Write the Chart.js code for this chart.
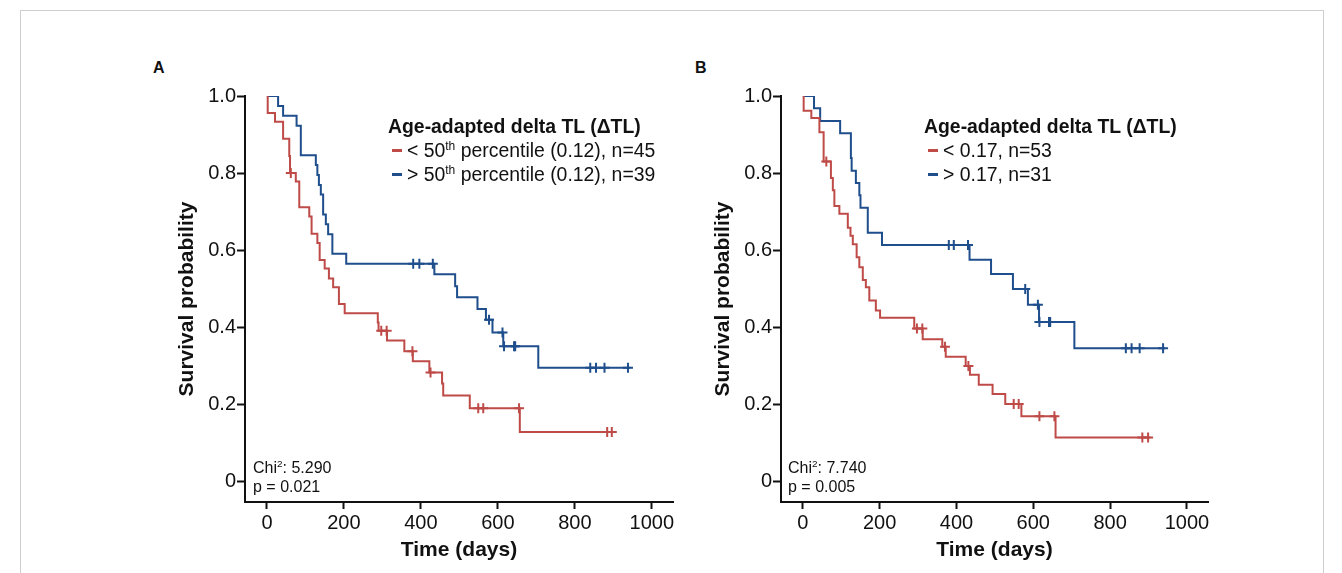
<!DOCTYPE html>
<html>
<head>
<meta charset="utf-8">
<script src="https://cdn.jsdelivr.net/npm/chart.js@4/dist/chart.umd.min.js"></script>
<style>
  body { margin: 0; background: #fff; overflow: hidden; font-family: 'Liberation Sans', Arial, sans-serif; color: #111; }
  .frame { position: absolute; left: 20px; top: 10px; width: 1302px; height: 570px; border: 1px solid #cfcfcf; border-bottom: none; }
  .panel { position: absolute; }
  .letter { position: absolute; font-weight: bold; font-size: 16px; line-height: 16px; }
  .legend { position: absolute; font-size: 19.4px; line-height: 24px; white-space: nowrap; }
  .legend .title { font-weight: bold; }
  .legend .item { padding-left: 4px; }
  .legend .mark { display: inline-block; width: 10px; height: 3px; vertical-align: middle; margin-right: 5px; position: relative; top: -1px; }
  .stats { position: absolute; font-size: 16px; line-height: 19px; white-space: nowrap; }
  sup { font-size: 62%; line-height: 0; }
</style>
</head>
<body>
<div class="frame"></div>

<div class="letter" style="left:153px; top:60px;">A</div>
<div class="letter" style="left:695px; top:60px;">B</div>

<div class="panel" style="left:160px; top:80px;"><canvas id="kmA" width="520" height="490"></canvas></div>
<div class="panel" style="left:696px; top:80px;"><canvas id="kmB" width="519" height="490"></canvas></div>

<div class="legend" style="left:388px; top:114px;">
  <div class="title">Age-adapted delta TL (ΔTL)</div>
  <div class="item"><span class="mark" style="background:#BE4B48"></span>&lt; 50<sup>th</sup> percentile (0.12), n=45</div>
  <div class="item"><span class="mark" style="background:#1F4E8C"></span>&gt; 50<sup>th</sup> percentile (0.12), n=39</div>
</div>
<div class="legend" style="left:924px; top:114px;">
  <div class="title">Age-adapted delta TL (ΔTL)</div>
  <div class="item"><span class="mark" style="background:#BE4B48"></span>&lt; 0.17, n=53</div>
  <div class="item"><span class="mark" style="background:#1F4E8C"></span>&gt; 0.17, n=31</div>
</div>

<div class="stats" style="left:253px; top:458px;">Chi<sup>2</sup>: 5.290<br>p = 0.021</div>
<div class="stats" style="left:788px; top:458px;">Chi<sup>2</sup>: 7.740<br>p = 0.005</div>

<script>
const xTicks = [0, 200, 400, 600, 800, 1000];
const yTicks = [0, 0.2, 0.4, 0.6, 0.8, 1.0];

// Panel A - below 50th percentile (red)
const aLowDays = [0, 2, 21, 42, 58, 60, 75, 84, 110, 116, 131, 137, 150, 161, 172, 187, 202, 288, 290, 312, 357, 379, 422, 455, 458, 527, 657, 905];
const aLowSurv = [1, 0.956, 0.933, 0.889, 0.844, 0.800, 0.778, 0.711, 0.687, 0.642, 0.618, 0.574, 0.552, 0.526, 0.503, 0.460, 0.436, 0.412, 0.390, 0.365, 0.337, 0.311, 0.282, 0.253, 0.222, 0.189, 0.127, 0.127];
const aLowCensDays = [62, 297, 311, 378, 425, 549, 562, 655, 884, 896];
const aLowCensSurv = [0.800, 0.390, 0.390, 0.337, 0.282, 0.189, 0.189, 0.189, 0.127, 0.127];

// Panel A - above 50th percentile (blue)
const aHighDays = [0, 29, 42, 77, 88, 127, 131, 135, 140, 146, 153, 159, 170, 206, 435, 489, 494, 547, 569, 586, 614, 705, 944];
const aHighSurv = [1, 0.974, 0.949, 0.923, 0.846, 0.821, 0.795, 0.769, 0.744, 0.692, 0.667, 0.641, 0.590, 0.564, 0.537, 0.506, 0.477, 0.447, 0.419, 0.386, 0.350, 0.294, 0.294];
const aHighCensDays = [380, 396, 431, 577, 612, 616, 642, 645, 840, 855, 877, 938];
const aHighCensSurv = [0.564, 0.564, 0.564, 0.419, 0.386, 0.350, 0.350, 0.350, 0.294, 0.294, 0.294, 0.294];

// Panel B - below 0.17 (red)
const bLowDays = [0, 2, 22, 43, 54, 73, 78, 82, 95, 117, 124, 130, 140, 147, 156, 164, 173, 190, 201, 290, 312, 363, 372, 424, 435, 458, 494, 527, 569, 658, 905];
const bLowSurv = [1, 0.962, 0.943, 0.906, 0.830, 0.787, 0.755, 0.714, 0.694, 0.658, 0.637, 0.615, 0.581, 0.555, 0.522, 0.503, 0.469, 0.443, 0.424, 0.396, 0.368, 0.349, 0.323, 0.299, 0.276, 0.250, 0.226, 0.200, 0.168, 0.113, 0.113];
const bLowCensDays = [61, 297, 311, 370, 431, 549, 562, 616, 655, 884, 899];
const bLowCensSurv = [0.830, 0.396, 0.396, 0.349, 0.299, 0.200, 0.200, 0.168, 0.168, 0.113, 0.113];

// Panel B - above 0.17 (blue)
const bHighDays = [0, 29, 45, 97, 125, 127, 138, 147, 150, 169, 206, 434, 490, 547, 586, 615, 707, 943];
const bHighSurv = [1, 0.968, 0.935, 0.903, 0.839, 0.806, 0.774, 0.742, 0.710, 0.645, 0.613, 0.575, 0.538, 0.499, 0.458, 0.413, 0.345, 0.345];
const bHighCensDays = [380, 393, 430, 579, 612, 616, 641, 644, 841, 856, 877, 938];
const bHighCensSurv = [0.613, 0.613, 0.613, 0.499, 0.458, 0.413, 0.413, 0.413, 0.345, 0.345, 0.345, 0.345];

const RED = '#BE4B48';
const BLUE = '#1F4E8C';
const INK = '#111';
const FONT = "'Liberation Sans', Arial, sans-serif";

const pts = (xs, ys) => xs.map((x, i) => ({ x: x, y: ys[i] }));

function curve(days, surv, color) {
  return {
    data: pts(days, surv),
    borderColor: color,
    borderWidth: 2,
    stepped: 'before',
    pointRadius: 0,
    fill: false
  };
}

function censors(days, surv, color) {
  return {
    data: pts(days, surv),
    showLine: false,
    borderColor: color,
    backgroundColor: color,
    borderWidth: 2,
    pointStyle: 'cross',
    pointRadius: 5
  };
}

function kmOptions() {
  return {
    responsive: false,
    animation: false,
    layout: { padding: { top: 16, right: 5, left: 0, bottom: 0 } },
    plugins: { legend: { display: false }, tooltip: { enabled: false } },
    scales: {
      x: {
        type: 'linear',
        min: -57,
        max: 1055,
        afterBuildTicks: s => { s.ticks = xTicks.map(v => ({ value: v })); },
        afterFit: s => { s.height = 68; },
        grid: { display: true, drawOnChartArea: false, drawTicks: true, tickLength: 7, tickWidth: 2, tickColor: INK },
        border: { display: true, width: 2, color: INK },
        ticks: { color: INK, padding: 2, maxRotation: 0, autoSkip: false, font: { size: 20, family: FONT }, callback: v => String(v) },
        title: { display: true, text: 'Time (days)', color: INK, font: { size: 21, weight: 'bold', family: FONT }, padding: { top: 0, bottom: 7 } }
      },
      y: {
        type: 'linear',
        min: -0.0545,
        max: 1.0,
        afterBuildTicks: s => { s.ticks = yTicks.map(v => ({ value: v })); },
        afterFit: s => { s.width = 85; },
        grid: { display: true, drawOnChartArea: false, drawTicks: true, tickLength: 8, tickWidth: 2, tickColor: INK },
        border: { display: true, width: 2, color: INK },
        ticks: { color: INK, padding: 1, font: { size: 20, family: FONT }, callback: v => v === 0 ? '0' : v.toFixed(1) },
        title: { display: true, text: 'Survival probability', color: INK, font: { size: 21, weight: 'bold', family: FONT }, padding: { top: 15, bottom: 0 } }
      }
    }
  };
}

// Panel A
const ctxA = document.getElementById('kmA').getContext('2d');
new Chart(ctxA, {
  type: 'line',
  data: {
    datasets: [
      curve(aLowDays, aLowSurv, RED),
      curve(aHighDays, aHighSurv, BLUE),
      censors(aLowCensDays, aLowCensSurv, RED),
      censors(aHighCensDays, aHighCensSurv, BLUE)
    ]
  },
  options: kmOptions()
});

// Panel B
const ctxB = document.getElementById('kmB').getContext('2d');
new Chart(ctxB, {
  type: 'line',
  data: {
    datasets: [
      curve(bLowDays, bLowSurv, RED),
      curve(bHighDays, bHighSurv, BLUE),
      censors(bLowCensDays, bLowCensSurv, RED),
      censors(bHighCensDays, bHighCensSurv, BLUE)
    ]
  },
  options: kmOptions()
});
</script>
</body>
</html>
